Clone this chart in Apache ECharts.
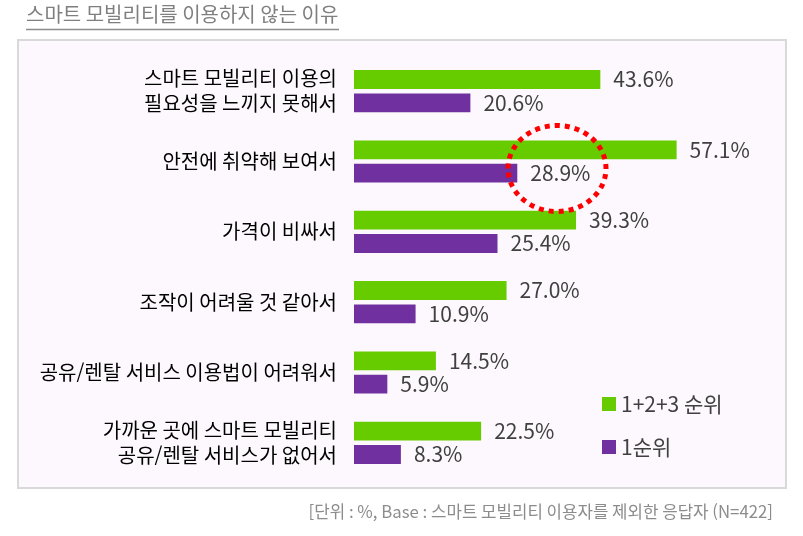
<!DOCTYPE html>
<html lang="ko">
<head>
  <meta charset="UTF-8">
  <title>스마트 모빌리티를 이용하지 않는 이유</title>
  <script src="https://cdn.jsdelivr.net/npm/echarts@6/dist/echarts.min.js"></script>
  <style>
    html, body { margin: 0; padding: 0; background: #fff; }
    #chart { width: 803px; height: 536px; }
  </style>
</head>
<body>
  <div id="chart"></div>
  <script>
    const titleText = '스마트 모빌리티를 이용하지 않는 이유'
    const footText = '[단위 : %, Base : 스마트 모빌리티 이용자를 제외한 응답자 (N=422]'
    const categories = [
      '스마트 모빌리티 이용의\n필요성을 느끼지 못해서',
      '안전에 취약해 보여서',
      '가격이 비싸서',
      '조작이 어려울 것 같아서',
      '공유/렌탈 서비스 이용법이 어려워서',
      '가까운 곳에 스마트 모빌리티\n공유/렌탈 서비스가 없어서'
    ]
    const seriesNames = ['1+2+3 순위', '1순위']
    const rank123 = [43.6, 57.1, 39.3, 27.0, 14.5, 22.5]
    const rank1 = [20.6, 28.9, 25.4, 10.9, 5.9, 8.3]

    const font = "'Noto Sans CJK KR', 'Noto Sans', sans-serif"
    const chart = echarts.init(document.getElementById('chart'))

    const valueLabel = {
      show: true,
      position: 'right',
      distance: 13,
      color: '#404040',
      fontSize: 21,
      fontFamily: font,
      formatter: p => p.value.toFixed(1) + '%'
    }

    const option = {
      animation: false,
      textStyle: { fontFamily: font },
      graphic: [
        // 박스
        {
          type: 'rect',
          z: -10,
          shape: { x: 18, y: 40, width: 768, height: 448 },
          style: { fill: '#fdf8fd', stroke: '#d9d9d9', lineWidth: 2 }
        },
        // 제목 + 밑줄
        {
          type: 'text',
          left: 26,
          top: 4,
          style: { text: titleText, fill: '#7f7f7f', font: "20px 'Noto Sans CJK KR'" }
        },
        {
          type: 'line',
          shape: { x1: 26, y1: 29.5, x2: 339, y2: 29.5 },
          style: { stroke: '#8c8c8c', lineWidth: 1.5 }
        },
        // 하단 주석
        {
          type: 'text',
          right: 30,
          top: 503,
          style: { text: footText, fill: '#8c8c8c', font: "16.8px 'Noto Sans CJK KR'" }
        },
        // 빨간 점선 원
        {
          type: 'ellipse',
          z: 100,
          shape: { cx: 557, cy: 168.5, rx: 49, ry: 43 },
          style: { fill: 'none', stroke: '#ff0000', lineWidth: 5, lineDash: [5, 5] }
        }
      ],
      legend: {
        orient: 'vertical',
        left: 597,
        top: 388,
        itemWidth: 14,
        itemHeight: 14,
        itemGap: 21,
        icon: 'rect',
        textStyle: { fontSize: 21, color: '#404040', fontFamily: font, lineHeight: 22 },
        data: seriesNames
      },
      grid: { left: 354, right: 110, top: 56, bottom: 58 },
      xAxis: {
        type: 'value',
        min: 0,
        max: 60,
        show: false
      },
      yAxis: {
        type: 'category',
        inverse: true,
        data: categories,
        axisLine: { show: false },
        axisTick: { show: false },
        axisLabel: {
          margin: 17,
          color: '#000',
          fontSize: 20,
          lineHeight: 25,
          fontFamily: font,
          align: 'right'
        }
      },
      series: [
        {
          name: seriesNames[0],
          type: 'bar',
          data: rank123,
          barGap: '24%',
          barCategoryGap: '40%',
          itemStyle: { color: '#66cc00' },
          label: valueLabel
        },
        {
          name: seriesNames[1],
          type: 'bar',
          data: rank1,
          itemStyle: { color: '#7030a0' },
          label: valueLabel
        }
      ]
    }

    chart.setOption(option)
  </script>
</body>
</html>
